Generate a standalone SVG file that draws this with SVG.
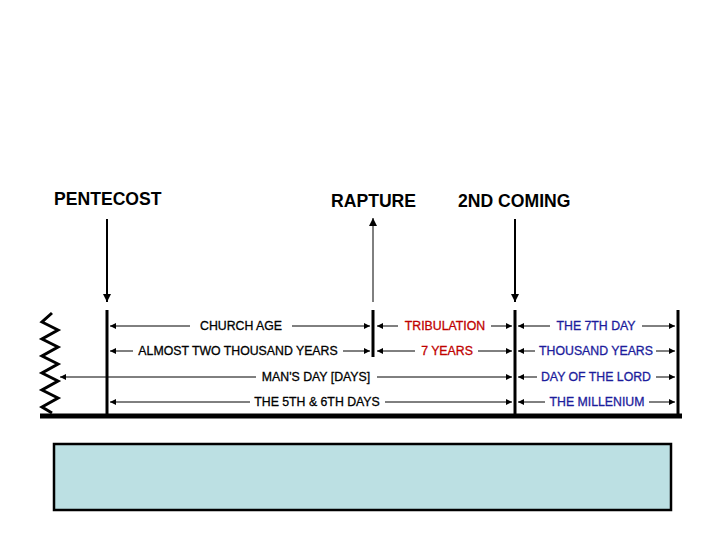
<svg xmlns="http://www.w3.org/2000/svg" width="720" height="540" viewBox="0 0 720 540">
<defs>
<marker id="ah" viewBox="0 0 10 10" refX="10" refY="5" markerWidth="6" markerHeight="6" markerUnits="userSpaceOnUse" orient="auto-start-reverse">
<path d="M0,0 L10,5 L0,10 z" fill="#000"/>
</marker>
<marker id="ahb" viewBox="0 0 10 10" refX="10" refY="5" markerWidth="8" markerHeight="8" markerUnits="userSpaceOnUse" orient="auto-start-reverse">
<path d="M0,0 L10,5 L0,10 z" fill="#000"/>
</marker>
</defs>
<style>
.title{font-family:"Liberation Sans",Arial,sans-serif;font-size:17.6px;font-weight:bold;fill:#000}
.lbl{font-family:"Liberation Sans",Arial,sans-serif;font-size:12.3px;text-anchor:middle;stroke-width:0.3}
.k{fill:#000;stroke:#000}
.r{fill:#c00000;stroke:#c00000}
.b{fill:#1c1c9c;stroke:#1c1c9c}
.ar{stroke:#000;stroke-width:1;fill:none}
.arb{stroke:#000;stroke-width:2;fill:none}
.bar{stroke:#000;stroke-width:3;fill:none}
</style>
<rect width="720" height="540" fill="#fff"/>
<g id="pentecost">
<text class="title" x="54" y="205">PENTECOST</text>
</g>
<g id="rapture">
<text class="title" x="331" y="207">RAPTURE</text>
</g>
<g id="second-coming">
<text class="title" x="458" y="207">2ND COMING</text>
</g>
<g id="timeline">
<line class="bar" x1="107" y1="310" x2="107" y2="414"/>
<line class="bar" x1="373" y1="310" x2="373" y2="357"/>
<line class="bar" x1="515" y1="310" x2="515" y2="414"/>
<line class="bar" x1="678" y1="310" x2="678" y2="414"/>
<line x1="40" y1="416" x2="682" y2="416" stroke="#000" stroke-width="5"/>
<polyline points="52,313 42,322 58,330 42,339 58,347 42,356 58,364 42,373 58,381 42,390 58,398 42,407 52,413" fill="none" stroke="#000" stroke-width="3"/>
</g>
<g id="labels">
<text class="lbl k" x="241" y="330">CHURCH AGE</text>
<text class="lbl k" x="238" y="355">ALMOST TWO THOUSAND YEARS</text>
<text class="lbl k" x="316" y="381">MAN'S DAY [DAYS]</text>
<text class="lbl k" x="317" y="406">THE 5TH &amp; 6TH DAYS</text>
<text class="lbl r" x="445" y="330">TRIBULATION</text>
<text class="lbl r" x="447" y="355">7 YEARS</text>
<text class="lbl b" x="596" y="330">THE 7TH DAY</text>
<text class="lbl b" x="596" y="355">THOUSAND YEARS</text>
<text class="lbl b" x="596" y="381">DAY OF THE LORD</text>
<text class="lbl b" x="597" y="406">THE MILLENIUM</text>
</g>
<g id="connectors">
<line class="arb" x1="107" y1="219" x2="107" y2="302" marker-end="url(#ahb)"/>
<line class="ar" x1="373" y1="302" x2="373" y2="218" stroke-width="1.5" marker-end="url(#ahb)"/>
<line class="arb" x1="515" y1="219" x2="515" y2="302" marker-end="url(#ahb)"/>
<line class="ar" x1="190" y1="326" x2="110" y2="326" marker-end="url(#ah)"/>
<line class="ar" x1="292" y1="326" x2="370" y2="326" marker-end="url(#ah)"/>
<line class="ar" x1="133" y1="351" x2="110" y2="351" marker-end="url(#ah)"/>
<line class="ar" x1="343" y1="351" x2="370" y2="351" marker-end="url(#ah)"/>
<line class="ar" x1="256" y1="377" x2="60" y2="377" marker-end="url(#ah)"/>
<line class="ar" x1="377" y1="377" x2="512" y2="377" marker-end="url(#ah)"/>
<line class="ar" x1="250" y1="402" x2="110" y2="402" marker-end="url(#ah)"/>
<line class="ar" x1="385" y1="402" x2="512" y2="402" marker-end="url(#ah)"/>
<line class="ar" x1="398" y1="326" x2="377" y2="326" marker-end="url(#ah)"/>
<line class="ar" x1="491" y1="326" x2="512" y2="326" marker-end="url(#ah)"/>
<line class="ar" x1="415" y1="351" x2="377" y2="351" marker-end="url(#ah)"/>
<line class="ar" x1="478" y1="351" x2="512" y2="351" marker-end="url(#ah)"/>
<line class="ar" x1="550" y1="326" x2="518" y2="326" marker-end="url(#ah)"/>
<line class="ar" x1="642" y1="326" x2="675" y2="326" marker-end="url(#ah)"/>
<line class="ar" x1="535" y1="351" x2="518" y2="351" marker-end="url(#ah)"/>
<line class="ar" x1="656" y1="351" x2="675" y2="351" marker-end="url(#ah)"/>
<line class="ar" x1="537" y1="377" x2="518" y2="377" marker-end="url(#ah)"/>
<line class="ar" x1="656" y1="377" x2="675" y2="377" marker-end="url(#ah)"/>
<line class="ar" x1="545" y1="402" x2="518" y2="402" marker-end="url(#ah)"/>
<line class="ar" x1="649" y1="402" x2="675" y2="402" marker-end="url(#ah)"/>
</g>
<g id="note-box">
<rect x="54" y="444" width="617" height="66" fill="#bce0e3" stroke="#000" stroke-width="2.5"/>
</g>
</svg>
